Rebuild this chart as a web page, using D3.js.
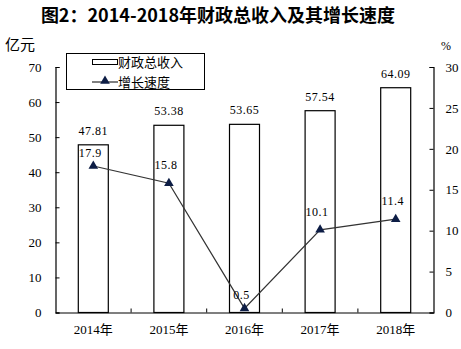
<!DOCTYPE html>
<html><head><meta charset="utf-8">
<script src="https://cdn.jsdelivr.net/npm/d3@7/dist/d3.min.js"></script>
<style>
body{margin:0;background:#fff;}
text{font-family:"Liberation Serif","Noto Sans CJK SC",serif;fill:#000;}
</style></head>
<body><svg id="c" width="461" height="349"></svg>
<script>
const categories = ["2014年","2015年","2016年","2017年","2018年"];
const revenue = [47.81, 53.38, 53.65, 57.54, 64.09];
const growth = [17.9, 15.8, 0.5, 10.1, 11.4];
const leftTicks = [0,10,20,30,40,50,60,70];
const rightTicks = [0,5,10,15,20,25,30];
const title = "图2：2014-2018年财政总收入及其增长速度";
const legendLabels = ["财政总收入","增长速度"];

const svg = d3.select("#c");
const L = 55.5, R = 433.5, T = 67, B = 312.5;
const x = d3.scaleBand().domain(categories).range([L, R]);
const yL = d3.scaleLinear().domain([0,70]).range([B, T]);
const yR = d3.scaleLinear().domain([0,30]).range([B, T]);
const barW = 30;

svg.append("text").attr("x", 218).attr("y", 22).attr("text-anchor","middle")
  .style("font-family","'Noto Sans CJK SC',sans-serif").style("font-weight","700")
  .style("font-size","18px").text(title);
svg.append("text").attr("x", 5).attr("y", 50).style("font-family","'Noto Sans CJK SC',sans-serif").style("font-size","15px").text("亿元");
svg.append("text").attr("x", 441).attr("y", 50).style("font-size","12px").text("%");

// bars
svg.selectAll("rect.bar").data(revenue).enter().append("rect")
  .attr("x",(d,i)=>x(categories[i])+x.bandwidth()/2-barW/2)
  .attr("y",d=>yL(d)).attr("width",barW).attr("height",d=>B-yL(d))
  .attr("fill","#fff").attr("stroke","#000").attr("stroke-width",1.2);
svg.selectAll("text.bl").data(revenue).enter().append("text")
  .attr("x",(d,i)=>x(categories[i])+x.bandwidth()/2).attr("y",d=>yL(d)-10)
  .attr("text-anchor","middle").style("font-size","12px").style("letter-spacing","0.5px")
  .text(d=>d.toFixed(2));

// axes
const gl = svg.append("g").attr("transform",`translate(${L},0)`)
  .call(d3.axisLeft(yL).tickValues(leftTicks).tickSize(-4).tickPadding(14));
const gr = svg.append("g").attr("transform",`translate(${R},0)`)
  .call(d3.axisRight(yR).tickValues(rightTicks).tickSize(-4).tickPadding(12));
const gb = svg.append("g").attr("transform",`translate(0,${B})`)
  .call(d3.axisBottom(x).tickSize(0).tickPadding(12));
[gl,gr,gb].forEach(g=>{
  g.select(".domain").attr("stroke","#000").attr("stroke-width",1.2);
  g.selectAll(".tick line").attr("stroke","#000");
  g.selectAll("text").style("font-family","'Liberation Serif','Noto Sans CJK SC',serif").style("font-size","13px");
});
gl.selectAll(".tick text").attr("text-anchor","end");
gr.selectAll(".tick text").attr("text-anchor","start");
// category boundary ticks
svg.selectAll("line.ct").data(categories.slice(1)).enter().append("line")
  .attr("x1",d=>x(d)).attr("x2",d=>x(d)).attr("y1",B).attr("y2",B-4).attr("stroke","#000");

// growth line
const pts = growth.map((d,i)=>[x(categories[i])+x.bandwidth()/2, yR(d)]);
svg.append("path").attr("d", d3.line()(pts)).attr("fill","none").attr("stroke","#333").attr("stroke-width",1.2);
const tri = d3.symbol().type(d3.symbolTriangle).size(40);
svg.selectAll("path.m").data(pts).enter().append("path")
  .attr("d",tri()).attr("transform",d=>`translate(${d[0]},${d[1]})`).attr("fill","#0d1d45");
svg.selectAll("text.gl").data(growth).enter().append("text")
  .attr("x",(d,i)=>pts[i][0]-3).attr("y",(d,i)=>pts[i][1]-(i===0||i===2?9:14))
  .attr("text-anchor","middle").style("font-size","12px").style("letter-spacing","0.5px")
  .text(d=>d.toFixed(1));

// legend
const lg = svg.append("g");
lg.append("rect").attr("x",66.5).attr("y",53.5).attr("width",138).attr("height",36)
  .attr("fill","#fff").attr("stroke","#000");
lg.append("rect").attr("x",92.5).attr("y",59.5).attr("width",25).attr("height",5).attr("fill","#fff").attr("stroke","#000");
lg.append("line").attr("x1",92).attr("x2",118).attr("y1",82).attr("y2",82).attr("stroke","#000");
lg.append("path").attr("d",tri()).attr("transform","translate(105,81)").attr("fill","#0d1d45");
lg.selectAll("text").data(legendLabels).enter().append("text")
  .attr("x",118).attr("y",(d,i)=>i?87:67).style("font-family","'Noto Sans CJK SC',sans-serif").style("font-size","13px").text(d=>d);
</script></body></html>
